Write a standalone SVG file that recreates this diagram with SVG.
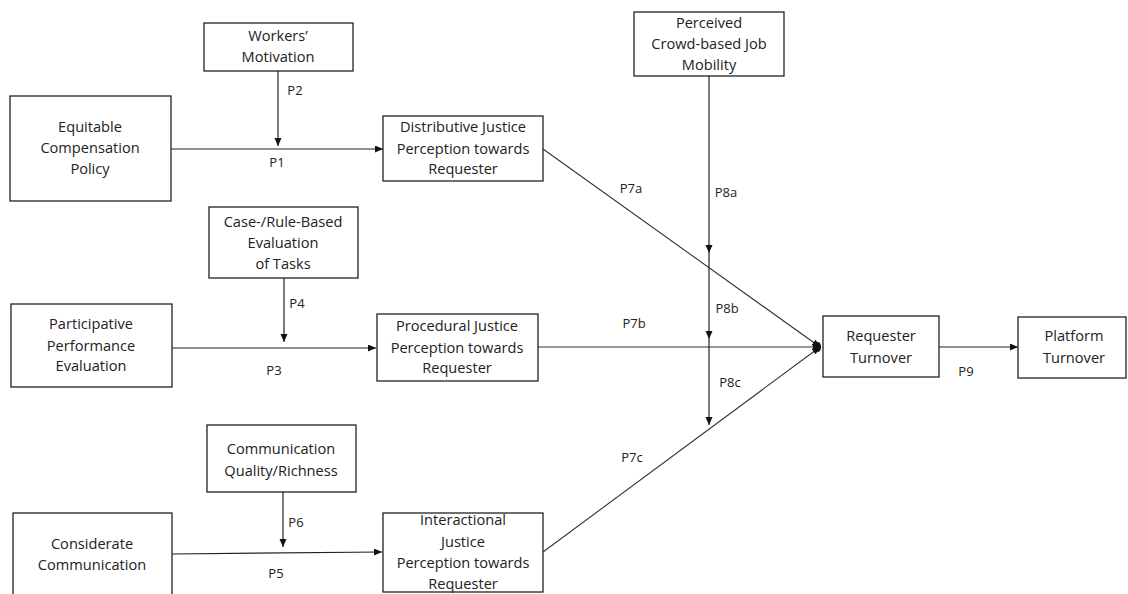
<svg xmlns="http://www.w3.org/2000/svg" width="1128" height="594" viewBox="0 0 1128 594">
<style>
.box{fill:#fff;stroke:#222;stroke-width:1.3}
.t{font-family:"Open Sans","Liberation Sans",sans-serif;font-size:14.6px;fill:#222;text-anchor:middle}
.l{font-family:"Open Sans","Liberation Sans",sans-serif;font-size:13px;fill:#222;text-anchor:middle}
.c{fill:none;stroke:#222;stroke-width:1.2}
.d{fill:none;stroke:#333;stroke-width:1.1}
</style>
<defs>
<marker id="ah" markerUnits="userSpaceOnUse" markerWidth="9" markerHeight="8" refX="8" refY="3.5" orient="auto">
<path d="M0,0 L8,3.5 L0,7 z" fill="#111"/>
</marker>
</defs>
<rect width="1128" height="594" fill="#fff"/>
<g id="connectors">
<line class="c" x1="171" y1="149" x2="383" y2="149" marker-end="url(#ah)"/>
<line class="c" x1="278" y1="71" x2="278" y2="146" marker-end="url(#ah)"/>
<line class="c" x1="172" y1="348" x2="376" y2="348" marker-end="url(#ah)"/>
<line class="c" x1="284" y1="278" x2="284" y2="342" marker-end="url(#ah)"/>
<line class="c" x1="172" y1="554" x2="382" y2="552" marker-end="url(#ah)"/>
<line class="c" x1="283" y1="492" x2="283" y2="547" marker-end="url(#ah)"/>
<line class="d" x1="543" y1="149" x2="820" y2="347" marker-end="url(#ah)"/>
<line class="d" x1="538" y1="347" x2="821" y2="347" marker-end="url(#ah)"/>
<line class="d" x1="543" y1="552" x2="820" y2="347" marker-end="url(#ah)"/>
<ellipse cx="818" cy="347" rx="3" ry="5" fill="#111"/>
<line class="c" x1="709" y1="76" x2="709" y2="253" marker-end="url(#ah)"/>
<line class="c" x1="709" y1="253" x2="709" y2="339" marker-end="url(#ah)"/>
<line class="c" x1="709" y1="339" x2="709" y2="425" marker-end="url(#ah)"/>
<line class="c" x1="939" y1="347" x2="1018" y2="347" marker-end="url(#ah)"/>
<text class="l" x="277" y="167">P1</text>
<text class="l" x="295" y="95">P2</text>
<text class="l" x="274" y="375">P3</text>
<text class="l" x="297" y="308">P4</text>
<text class="l" x="276" y="578">P5</text>
<text class="l" x="296" y="527">P6</text>
<text class="l" x="631" y="193">P7a</text>
<text class="l" x="634" y="328">P7b</text>
<text class="l" x="632" y="462">P7c</text>
<text class="l" x="726" y="197">P8a</text>
<text class="l" x="727" y="313">P8b</text>
<text class="l" x="730" y="387">P8c</text>
<text class="l" x="966" y="376">P9</text>
</g>
<g id="workers-motivation">
<rect class="box" x="204" y="23" width="149" height="48"/>
<text class="t" x="278" y="41">Workers’</text>
<text class="t" x="278" y="62">Motivation</text>
</g>
<g id="equitable-compensation">
<rect class="box" x="10" y="96" width="161" height="105"/>
<text class="t" x="90" y="132">Equitable</text>
<text class="t" x="90" y="153">Compensation</text>
<text class="t" x="90" y="174">Policy</text>
</g>
<g id="distributive-justice">
<rect class="box" x="383" y="116" width="160" height="65"/>
<text class="t" x="463" y="132">Distributive Justice</text>
<text class="t" x="463" y="154">Perception towards</text>
<text class="t" x="463" y="174">Requester</text>
</g>
<g id="job-mobility">
<rect class="box" x="634" y="12" width="150" height="64"/>
<text class="t" x="709" y="28">Perceived</text>
<text class="t" x="709" y="49">Crowd-based Job</text>
<text class="t" x="709" y="70">Mobility</text>
</g>
<g id="case-rule-evaluation">
<rect class="box" x="209" y="207" width="149" height="71"/>
<text class="t" x="283" y="227">Case-/Rule-Based</text>
<text class="t" x="283" y="248">Evaluation</text>
<text class="t" x="283" y="269">of Tasks</text>
</g>
<g id="participative-evaluation">
<rect class="box" x="11" y="304" width="161" height="83"/>
<text class="t" x="91" y="329">Participative</text>
<text class="t" x="91" y="351">Performance</text>
<text class="t" x="91" y="371">Evaluation</text>
</g>
<g id="procedural-justice">
<rect class="box" x="377" y="314" width="161" height="67"/>
<text class="t" x="457" y="331">Procedural Justice</text>
<text class="t" x="457" y="353">Perception towards</text>
<text class="t" x="457" y="373">Requester</text>
</g>
<g id="requester-turnover">
<rect class="box" x="823" y="316" width="116" height="61"/>
<text class="t" x="881" y="341">Requester</text>
<text class="t" x="881" y="363">Turnover</text>
</g>
<g id="platform-turnover">
<rect class="box" x="1018" y="317" width="108" height="61"/>
<text class="t" x="1074" y="341">Platform</text>
<text class="t" x="1074" y="363">Turnover</text>
</g>
<g id="communication-quality">
<rect class="box" x="207" y="425" width="149" height="67"/>
<text class="t" x="281" y="454">Communication</text>
<text class="t" x="281" y="476">Quality/Richness</text>
</g>
<g id="considerate-communication">
<rect class="box" x="13" y="513" width="159" height="90"/>
<text class="t" x="92" y="549">Considerate</text>
<text class="t" x="92" y="570">Communication</text>
</g>
<g id="interactional-justice">
<rect class="box" x="383" y="513" width="160" height="79"/>
<text class="t" x="463" y="525">Interactional</text>
<text class="t" x="463" y="547">Justice</text>
<text class="t" x="463" y="568">Perception towards</text>
<text class="t" x="463" y="589">Requester</text>
</g>
</svg>
